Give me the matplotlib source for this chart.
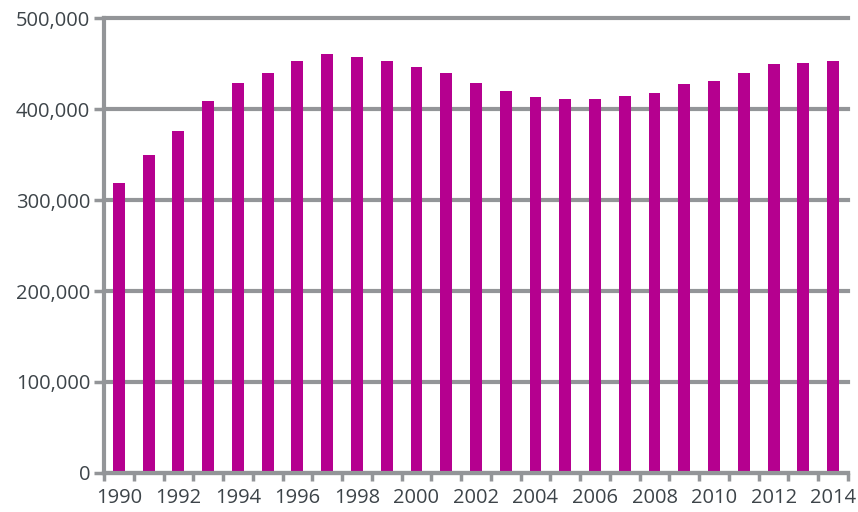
import matplotlib.pyplot as plt
import numpy as np

years = list(range(1990, 2015))
values = [319000, 350000, 376000, 409000, 429000, 440000, 453000, 460000, 457000,
          453000, 446000, 440000, 429000, 420000, 413000, 411000, 411000, 414000,
          418000, 427000, 431000, 440000, 449000, 451000, 453000]
y_ticks = [0, 100000, 200000, 300000, 400000, 500000]

grey = '#939598'
text_col = '#3d4449'

plt.rcParams['font.family'] = ['Open Sans', 'DejaVu Sans']

fig = plt.figure(figsize=(8.58, 5.12), dpi=100)
ax = fig.add_axes([0.1212, 0.0762, 0.8671, 0.8886])

x = np.arange(len(years))
ax.bar(x, values, width=0.4, color='#b5008f', zorder=3)

ax.set_xlim(-0.5, len(years) - 0.5)
ax.set_ylim(0, 500000)
ax.set_yticks(y_ticks)
ax.set_yticklabels(['{:,}'.format(v) for v in y_ticks])
ax.yaxis.grid(True, color=grey, linewidth=3, zorder=1)
for gl in ax.get_ygridlines():
    gl.set_clip_on(False)

# ticks sit on category boundaries, labels every second year
ax.set_xticks(np.arange(-0.5, len(years), 1.0))
ax.set_xticklabels([])
ax.set_xticks(x[::2], minor=True)
ax.set_xticklabels([str(y) for y in years[::2]], minor=True)
ax.tick_params(axis='x', which='major', length=6, width=2.5, color=grey)
ax.tick_params(axis='x', which='minor', length=0, pad=11, labelsize=14.5, labelcolor=text_col)
ax.tick_params(axis='y', length=7, width=2.5, color=grey, labelsize=14.5,
               labelcolor=text_col, pad=3)

for side in ['top', 'right']:
    ax.spines[side].set_visible(False)
for side in ['left', 'bottom']:
    ax.spines[side].set_color(grey)
    ax.spines[side].set_linewidth(3)
    ax.spines[side].set_zorder(4)

fig.savefig('out.png', dpi=100)
